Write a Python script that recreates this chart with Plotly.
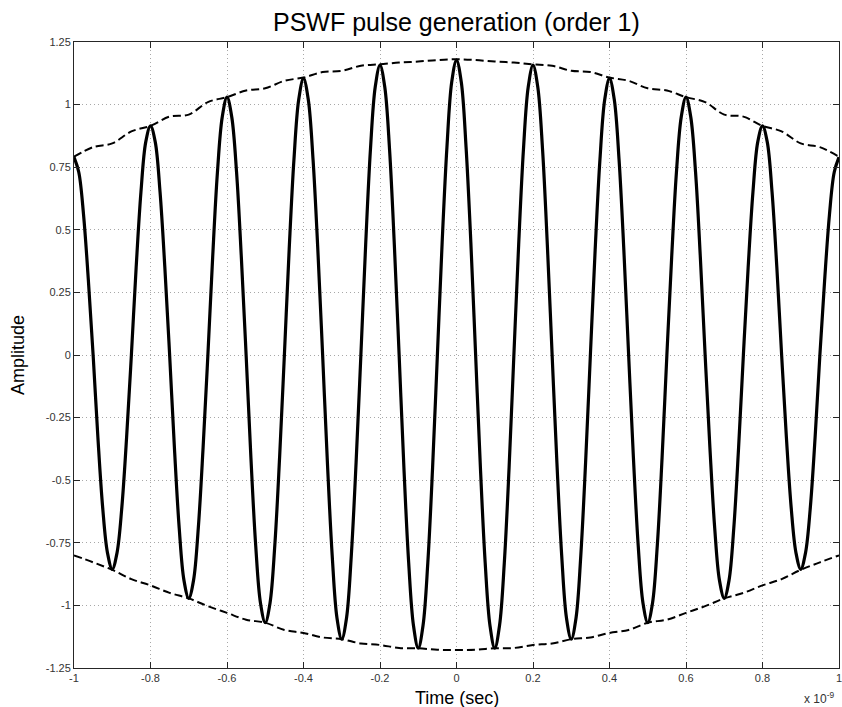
import numpy as np
import plotly.graph_objects as go

# time axis in units of 1e-9 s (sample grid)
time_ns = np.linspace(-1, 1, 161)

amplitude = [
    0.79, 0.73, 0.56, 0.30, 0.00, -0.33, -0.61, -0.79, -0.856,
    -0.79, -0.61, -0.33, 0.00, 0.35, 0.65, 0.85, 0.915,
    0.85, 0.65, 0.35, 0.00, -0.37, -0.69, -0.90, -0.972,
    -0.90, -0.69, -0.37, 0.00, 0.39, 0.73, 0.95, 1.03,
    0.95, 0.73, 0.39, 0.00, -0.41, -0.76, -0.99, -1.069,
    -0.99, -0.76, -0.41, 0.00, 0.42, 0.78, 1.02, 1.105,
    1.02, 0.78, 0.42, 0.00, -0.43, -0.80, -1.05, -1.135,
    -1.05, -0.80, -0.43, 0.00, 0.44, 0.82, 1.07, 1.158,
    1.07, 0.82, 0.44, 0.00, -0.45, -0.83, -1.08, -1.171,
    -1.08, -0.83, -0.45, 0.00, 0.45, 0.83, 1.09, 1.178,
    1.09, 0.83, 0.45, 0.00, -0.45, -0.83, -1.08, -1.171,
    -1.08, -0.83, -0.45, 0.00, 0.44, 0.82, 1.07, 1.158,
    1.07, 0.82, 0.44, 0.00, -0.43, -0.80, -1.05, -1.135,
    -1.05, -0.80, -0.43, 0.00, 0.42, 0.78, 1.02, 1.105,
    1.02, 0.78, 0.42, 0.00, -0.41, -0.76, -0.99, -1.069,
    -0.99, -0.76, -0.41, 0.00, 0.39, 0.73, 0.95, 1.03,
    0.95, 0.73, 0.39, 0.00, -0.37, -0.69, -0.90, -0.972,
    -0.90, -0.69, -0.37, 0.00, 0.35, 0.65, 0.85, 0.915,
    0.85, 0.65, 0.35, 0.00, -0.33, -0.61, -0.79, -0.856,
    -0.79, -0.61, -0.33, 0.00, 0.30, 0.56, 0.73, 0.79,
]

env_time_ns = [
    -1.00, -0.95, -0.90, -0.85, -0.80, -0.75, -0.70, -0.65, -0.60, -0.55,
    -0.50, -0.45, -0.40, -0.35, -0.30, -0.25, -0.20, -0.15, -0.10, -0.05,
    0.00, 0.05, 0.10, 0.15, 0.20, 0.25, 0.30, 0.35, 0.40, 0.45,
    0.50, 0.55, 0.60, 0.65, 0.70, 0.75, 0.80, 0.85, 0.90, 0.95, 1.00,
]
upper_env = [
    0.792, 0.830, 0.845, 0.893, 0.915, 0.952, 0.960, 1.010, 1.030, 1.056,
    1.065, 1.095, 1.108, 1.130, 1.135, 1.155, 1.161, 1.168, 1.172, 1.178,
    1.181, 1.178, 1.172, 1.168, 1.161, 1.155, 1.135, 1.130, 1.108, 1.095,
    1.065, 1.056, 1.030, 1.010, 0.960, 0.952, 0.915, 0.893, 0.845, 0.830, 0.792,
]
lower_env = [
    -0.800, -0.828, -0.858, -0.895, -0.920, -0.950, -0.972, -1.003, -1.030, -1.057,
    -1.069, -1.098, -1.110, -1.128, -1.135, -1.152, -1.158, -1.170, -1.171, -1.177,
    -1.178, -1.177, -1.171, -1.170, -1.158, -1.152, -1.135, -1.128, -1.110, -1.098,
    -1.069, -1.057, -1.030, -1.003, -0.972, -0.950, -0.920, -0.895, -0.858, -0.828, -0.800,
]

x_tickvals = [-1, -0.8, -0.6, -0.4, -0.2, 0, 0.2, 0.4, 0.6, 0.8, 1]
x_ticktext = ["-1", "-0.8", "-0.6", "-0.4", "-0.2", "0", "0.2", "0.4", "0.6", "0.8", "1"]
y_tickvals = [-1.25, -1, -0.75, -0.5, -0.25, 0, 0.25, 0.5, 0.75, 1, 1.25]
y_ticktext = ["-1.25", "-1", "-0.75", "-0.5", "-0.25", "0", "0.25", "0.5", "0.75", "1", "1.25"]

FONT = "Liberation Sans, Arial, sans-serif"

fig = go.Figure()
fig.add_trace(go.Scatter(x=env_time_ns, y=upper_env, mode="lines",
                         line=dict(color="black", width=2, dash="8px,4px", shape="spline", smoothing=1),
                         showlegend=False, hoverinfo="skip"))
fig.add_trace(go.Scatter(x=env_time_ns, y=lower_env, mode="lines",
                         line=dict(color="black", width=2, dash="8px,4px", shape="spline", smoothing=1),
                         showlegend=False, hoverinfo="skip"))
fig.add_trace(go.Scatter(x=time_ns, y=amplitude, mode="lines",
                         line=dict(color="black", width=3.2, shape="spline", smoothing=1),
                         showlegend=False))

axis_common = dict(
    showline=True, mirror="ticks", linecolor="#262626", linewidth=1,
    ticks="inside", ticklen=6, tickcolor="#262626", tickwidth=1,
    showgrid=True, gridcolor="#a8a8a8", gridwidth=1, griddash="1px,3px",
    zeroline=False, ticklabeloverflow="allow", automargin=False,
    tickfont=dict(family=FONT, size=11, color="#333333"),
)

fig.update_layout(
    width=842, height=707,
    paper_bgcolor="white", plot_bgcolor="white",
    margin=dict(l=74, r=3, t=42, b=39),
    xaxis=dict(range=[-1, 1], tickmode="array", tickvals=x_tickvals, ticktext=x_ticktext,
               **axis_common),
    yaxis=dict(range=[-1.25, 1.25], tickmode="array", tickvals=y_tickvals, ticktext=y_ticktext,
               **axis_common),
    annotations=[
        dict(text="PSWF pulse generation (order 1)", xref="paper", yref="paper",
             x=0.5, y=1, yshift=4, xanchor="center", yanchor="bottom", showarrow=False,
             font=dict(family=FONT, size=25, color="black")),
        dict(text="Time (sec)", xref="paper", yref="paper",
             x=0.5, y=0, yshift=-18, xanchor="center", yanchor="top", showarrow=False,
             font=dict(family=FONT, size=18, color="black")),
        dict(text="Amplitude", xref="paper", yref="paper", textangle=-90,
             x=0, xshift=-44, y=0.5, xanchor="right", yanchor="middle", showarrow=False,
             font=dict(family=FONT, size=18, color="black")),
        dict(text="x 10<sup>-9</sup>", xref="paper", yref="paper",
             x=1, xshift=-3, y=0, yshift=-20, xanchor="right", yanchor="top", showarrow=False,
             font=dict(family=FONT, size=12, color="#333333")),
    ],
)

fig.write_html("out.html")
